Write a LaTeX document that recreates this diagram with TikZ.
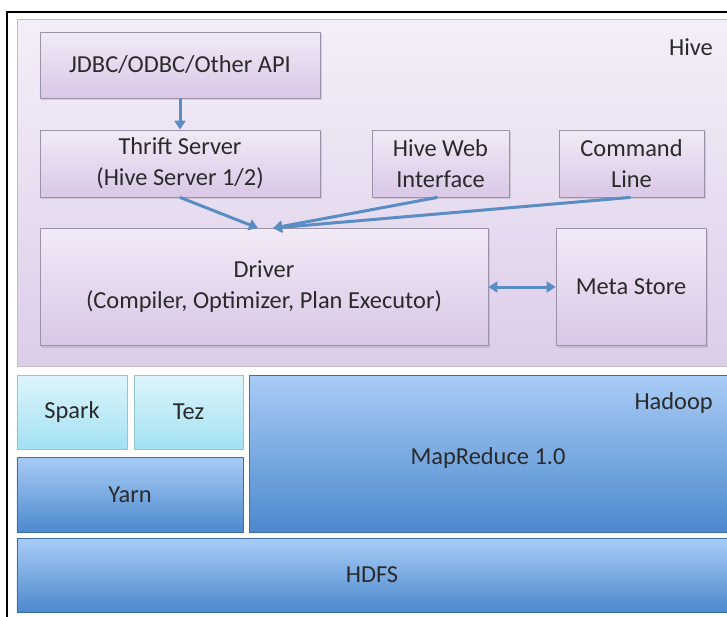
\documentclass[tikz,border=0pt]{standalone}
\usepackage{fontspec}
\setmainfont{Carlito}
\usetikzlibrary{arrows.meta,shadows,calc}
\definecolor{arrowblue}{HTML}{5A8DC4}
\definecolor{hivetop}{HTML}{F4EFF8}
\definecolor{hivebot}{HTML}{DCCDE9}
\definecolor{boxtop}{HTML}{F2EAF7}
\definecolor{boxbot}{HTML}{D9C7E6}
\definecolor{boxline}{HTML}{9C92A8}
\definecolor{bluetop}{HTML}{A9CCF6}
\definecolor{bluebot}{HTML}{4C89CD}
\definecolor{cyantop}{HTML}{DDF5FB}
\definecolor{cyanbot}{HTML}{A3E1F3}
\definecolor{txt}{HTML}{2A2A2A}
\tikzset{
  hivebox/.style={rectangle, draw=boxline, line width=0.8bp, top color=boxtop, bottom color=boxbot,
    align=center, inner sep=0pt, text=txt, font=\fontsize{24.5}{31}\selectfont,
    drop shadow={shadow xshift=1.5bp, shadow yshift=-2bp, opacity=0.25}},
  bluebox/.style={rectangle, draw=bluebot!80!black, line width=0.5bp, top color=bluetop, bottom color=bluebot,
    align=center, inner sep=0pt, text=txt, font=\fontsize{24.5}{31}\selectfont},
  cyanbox/.style={rectangle, draw=cyanbot!70!gray, line width=0.5bp, top color=cyantop, bottom color=cyanbot,
    align=center, inner sep=0pt, text=txt, font=\fontsize{24.5}{31}\selectfont},
  flow/.style={draw=arrowblue, line width=3bp, -{Triangle[width=11bp,length=9bp]}},
  lbl/.style={text=txt, font=\fontsize{24.5}{31}\selectfont, inner sep=0pt}
}
\begin{document}
\begin{tikzpicture}[x=1bp,y=-1bp]
\useasboundingbox (0,0) rectangle (727,617);
\fill[white] (0,0) rectangle (727,617);
% outer frame
\draw[black, line width=1.5bp] (7,617) -- (7,12) -- (727,12);
% Hive region
\node[rectangle, draw=boxline!60, line width=0.8bp, top color=hivetop, bottom color=hivebot,
  minimum width=710bp, minimum height=347bp, inner sep=0pt, anchor=north west] (hive) at (17,19) {};
\node[lbl, anchor=east] (hivelbl) at (713,47) {Hive};
% Hive boxes
\node[hivebox, minimum width=280bp, minimum height=66bp] (jdbc) at (180,65) {JDBC/ODBC/Other API};
\node[hivebox, minimum width=280bp, minimum height=67bp] (thrift) at (180,163.5) {Thrift Server\\(Hive Server 1/2)};
\node[hivebox, minimum width=137bp, minimum height=67bp] (web) at (440.5,163.5) {Hive Web\\Interface};
\node[hivebox, minimum width=145bp, minimum height=67bp] (cmd) at (631.5,163.5) {Command\\Line};
\node[hivebox, minimum width=448bp, minimum height=117bp] (driver) at (264,287) {Driver\\(Compiler, Optimizer, Plan Executor)};
\node[hivebox, minimum width=150bp, minimum height=117bp] (meta) at (631,287) {Meta Store};
% arrows
\draw[flow] (jdbc.south) -- (thrift.north);
\coordinate (d1) at ($(driver.north)+(-6,0)$);
\coordinate (d2) at ($(driver.north)+(9,0)$);
\draw[flow] (thrift.south) -- (d1);
\draw[flow] ($(web.south)+(-3,0)$) -- (d2);
\draw[flow] ($(cmd.south)+(-1,0)$) -- (d2);
\draw[draw=arrowblue, line width=3bp, {Triangle[width=11bp,length=9bp]}-{Triangle[width=11bp,length=9bp]}] (driver.east) -- (meta.west);
% Hadoop
\node[cyanbox, minimum width=110bp, minimum height=74bp] (spark) at (72,412) {Spark};
\node[cyanbox, minimum width=109bp, minimum height=74bp] (tez) at (188.5,412) {Tez};
\node[bluebox, minimum width=226bp, minimum height=75bp] (yarn) at (130,494.5) {Yarn};
\node[bluebox, minimum width=478bp, minimum height=157bp] (mr) at (488,453.5) {};
\node[lbl] (mrlbl) at (488,458) {MapReduce 1.0};
\node[lbl, anchor=east] (hadooplbl) at (713,403) {Hadoop};
\node[bluebox, minimum width=710bp, minimum height=74bp] (hdfs) at (372,575) {HDFS};
\end{tikzpicture}
\end{document}
